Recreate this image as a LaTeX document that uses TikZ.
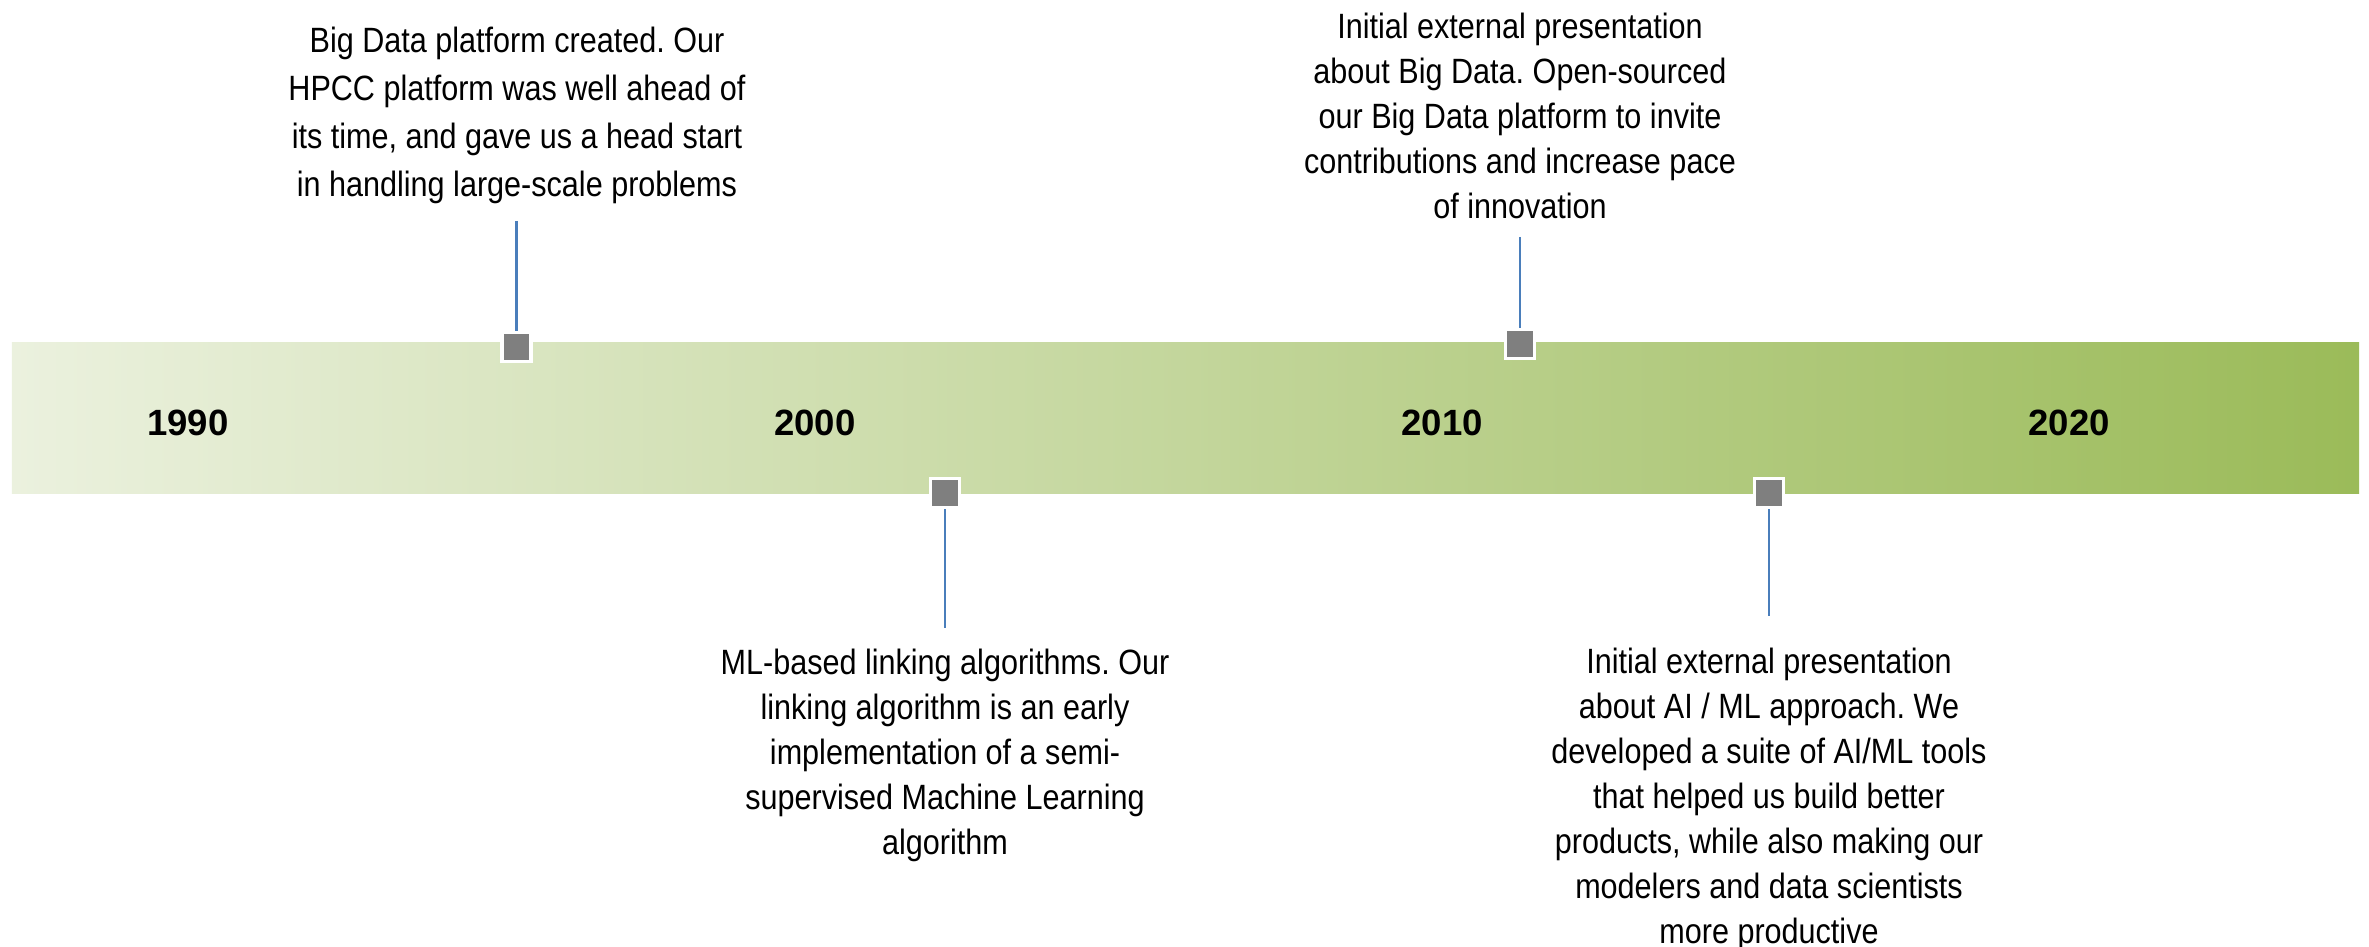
\documentclass[tikz,border=0pt]{standalone}
\usepackage{fontspec}
\setmainfont{Liberation Sans}
\newfontfamily\notefont{Liberation Sans}[FakeStretch=0.87]
\usepackage{xcolor}
\usepackage{tikz}
\usetikzlibrary{positioning}
\frenchspacing

\definecolor{bandlight}{HTML}{EBF1DE}
\definecolor{banddark}{HTML}{9BBB59}
\definecolor{markgray}{HTML}{7F7F7F}
\definecolor{stemblue}{HTML}{4A7EBB}

\begin{document}
\begin{tikzpicture}[
    band/.style={
        inner sep=0pt,
        minimum width=23.47cm,
        minimum height=1.51cm,
        left color=bandlight,
        right color=banddark
    },
    year/.style={
        font=\fontsize{10.4}{12}\selectfont\bfseries,
        inner sep=0pt
    },
    event/.style={
        font=\notefont\fontsize{10}{12.8}\selectfont,
        align=center,
        inner sep=0pt
    },
    marker/.style={
        draw=white,
        line width=0.9pt,
        fill=markgray,
        minimum size=0.29cm,
        inner sep=0pt
    },
    stem/.style={draw=stemblue, line width=0.6pt}
]
\useasboundingbox (0,0) rectangle (23.69,9.47);

\node[band] (band) at (11.855,5.285) {};

\node[year] (y1990) at (1.88,5.24) {1990};
\node[year] (y2000) at (8.15,5.24) {2000};
\node[year] (y2010) at (14.42,5.24) {2010};
\node[year] (y2020) at (20.69,5.24) {2020};

\node[marker] (hpcc) at (5.165,6.00) {};
\node[marker] (linking) at (9.45,4.54) {};
\node[marker] (opensrc) at (15.20,6.03) {};
\node[marker] (aiml) at (17.69,4.54) {};

\node[event, anchor=north, font=\notefont\fontsize{10}{13.7}\selectfont] (hpcctext) at (5.17,9.21) {
Big Data platform created. Our\\
HPCC platform was well ahead of\\
its time, and gave us a head start\\
in handling large-scale problems
};
\node[event, anchor=north] (linkingtext) at (9.45,2.99) {
ML-based linking algorithms. Our\\
linking algorithm is an early\\
implementation of a semi-\\
supervised Machine Learning\\
algorithm
};
\node[event, anchor=north] (opensrctext) at (15.20,9.35) {
Initial external presentation\\
about Big Data. Open-sourced\\
our Big Data platform to invite\\
contributions and increase pace\\
of innovation
};
\node[event, anchor=north] (aimltext) at (17.69,3.00) {
Initial external presentation\\
about AI / ML approach. We\\
developed a suite of AI/ML tools\\
that helped us build better\\
products, while also making our\\
modelers and data scientists\\
more productive
};

\coordinate (hpccend) at (5.165,7.26);
\coordinate (linkingend) at (9.45,3.19);
\coordinate (opensrcend) at (15.20,7.10);
\coordinate (aimlend) at (17.69,3.31);

\draw[stem] (hpccend) -- (hpcc.north);
\draw[stem] (linkingend) -- (linking.south);
\draw[stem] (opensrcend) -- (opensrc.north);
\draw[stem] (aimlend) -- (aiml.south);

\end{tikzpicture}
\end{document}
